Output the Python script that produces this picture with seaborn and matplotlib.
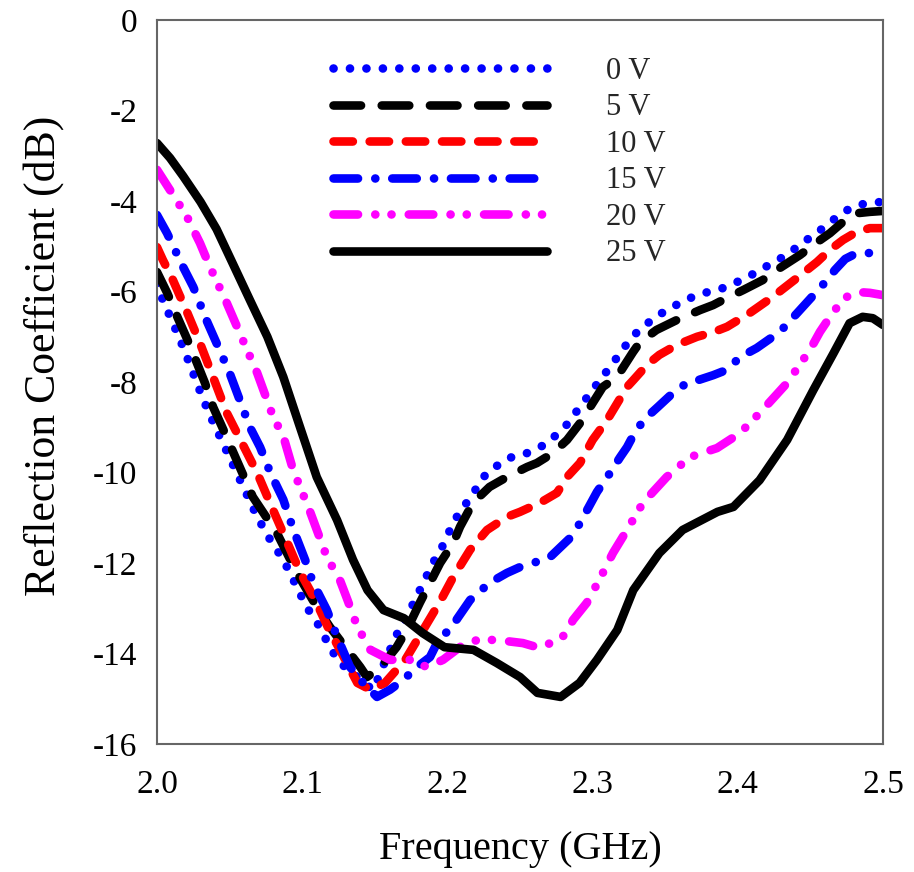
import matplotlib
matplotlib.use("Agg")
import matplotlib.pyplot as plt
import seaborn as sns
import pandas as pd

# ---------------- data ----------------
labels = ["0 V", "5 V", "10 V", "15 V", "20 V", "25 V"]

freq_0v = [2.000, 2.004, 2.011, 2.018, 2.024, 2.032, 2.038, 2.069, 2.078, 2.087, 2.094, 2.103,
           2.112, 2.119, 2.126, 2.135, 2.142, 2.149, 2.158, 2.166, 2.172, 2.181, 2.190, 2.196,
           2.205, 2.216, 2.227, 2.242, 2.252, 2.260, 2.269, 2.282, 2.305, 2.312, 2.324, 2.330,
           2.338, 2.345, 2.352, 2.360, 2.369, 2.377, 2.386, 2.395, 2.404, 2.412, 2.420, 2.428,
           2.436, 2.443, 2.450, 2.457, 2.464, 2.473, 2.481, 2.490, 2.500]
s11_0v = [-5.81, -6.19, -6.70, -7.23, -7.73, -8.40, -8.84, -10.98, -11.49, -11.93, -12.38, -12.97,
          -13.41, -13.86, -14.21, -14.43, -14.65, -14.80, -14.10, -13.52, -13.19, -12.60, -12.00, -11.67,
          -11.05, -10.54, -10.01, -9.68, -9.61, -9.50, -9.35, -8.95, -7.96, -7.67, -7.14, -6.92,
          -6.70, -6.52, -6.41, -6.25, -6.12, -6.03, -5.97, -5.86, -5.72, -5.59, -5.44, -5.30,
          -5.13, -4.97, -4.80, -4.64, -4.46, -4.24, -4.11, -4.04, -4.02]

freq_5v = [2.000, 2.007, 2.014, 2.021, 2.0275, 2.033, 2.0386, 2.0448, 2.066, 2.0826, 2.0964, 2.110,
           2.119, 2.131, 2.140, 2.1446, 2.1515, 2.158, 2.165, 2.172, 2.181, 2.195, 2.204, 2.2087,
           2.2176, 2.229, 2.241, 2.2548, 2.2617, 2.2727, 2.2824, 2.2913, 2.307, 2.3168, 2.3278, 2.3326,
           2.344, 2.358, 2.374, 2.383, 2.3926, 2.4036, 2.417, 2.429, 2.443, 2.452, 2.4635, 2.4725,
           2.482, 2.491, 2.500]
s11_5v = [-5.57, -6.03, -6.56, -7.07, -7.58, -8.02, -8.55, -8.99, -10.54, -11.34, -12.22, -12.97,
          -13.41, -13.92, -14.30, -14.52, -14.36, -14.14, -13.86, -13.48, -12.88, -12.00, -11.56, -11.20,
          -10.67, -10.32, -10.10, -9.88, -9.79, -9.57, -9.28, -8.91, -8.11, -7.89, -7.34, -7.12,
          -6.85, -6.63, -6.41, -6.30, -6.14, -5.97, -5.75, -5.48, -5.19, -4.97, -4.71, -4.46,
          -4.27, -4.24, -4.22]

freq_10v = [2.000, 2.004, 2.011, 2.021, 2.0296, 2.0386, 2.048, 2.069, 2.079, 2.088, 2.0985, 2.109,
            2.118, 2.129, 2.138, 2.147, 2.157, 2.171, 2.182, 2.195, 2.204, 2.2156, 2.2273, 2.241,
            2.250, 2.2638, 2.2755, 2.2824, 2.2913, 2.300, 2.310, 2.3237, 2.328, 2.3375, 2.346, 2.358,
            2.372, 2.383, 2.3926, 2.408, 2.424, 2.4408, 2.4545, 2.4635, 2.4725, 2.482, 2.491, 2.500]
s11_10v = [-5.02, -5.30, -5.75, -6.48, -7.14, -7.89, -8.68, -10.01, -10.76, -11.42, -12.20, -12.82,
           -13.44, -14.10, -14.65, -14.80, -14.65, -14.14, -13.55, -12.85, -12.31, -11.71, -11.27, -10.98,
           -10.87, -10.67, -10.45, -10.10, -9.79, -9.28, -8.84, -8.11, -7.96, -7.62, -7.40, -7.18,
           -7.00, -6.90, -6.78, -6.48, -6.12, -5.70, -5.35, -5.08, -4.86, -4.68, -4.60, -4.60]

freq_15v = [2.000, 2.0069, 2.018, 2.025, 2.034, 2.041, 2.050, 2.057, 2.064, 2.071, 2.078, 2.087,
            2.094, 2.102, 2.1075, 2.117, 2.124, 2.133, 2.142, 2.1515, 2.1605, 2.1694, 2.179, 2.188,
            2.195, 2.2018, 2.207, 2.2156, 2.229, 2.241, 2.250, 2.259, 2.2707, 2.2844, 2.2913, 2.303,
            2.312, 2.319, 2.3237, 2.330, 2.3375, 2.345, 2.3554, 2.365, 2.3726, 2.383, 2.3926, 2.4015,
            2.413, 2.429, 2.4408, 2.451, 2.4614, 2.467, 2.474, 2.482, 2.491, 2.500]
s11_15v = [-4.31, -4.71, -5.46, -5.90, -6.63, -7.14, -7.80, -8.40, -9.00, -9.44, -10.00, -10.60,
           -11.27, -11.93, -12.44, -13.04, -13.63, -14.30, -14.65, -14.96, -14.80, -14.59, -14.30, -14.08,
           -13.63, -13.48, -13.22, -12.82, -12.44, -12.22, -12.09, -12.00, -11.87, -11.45, -11.12, -10.43,
           -10.01, -9.66, -9.44, -9.06, -8.77, -8.55, -8.24, -8.02, -7.96, -7.85, -7.73, -7.45,
           -7.25, -6.89, -6.48, -6.12, -5.75, -5.52, -5.28, -5.15, -5.15, -5.15]

freq_20v = [2.000, 2.009, 2.0207, 2.0296, 2.0365, 2.048, 2.057, 2.069, 2.080, 2.087, 2.0937, 2.105,
            2.117, 2.126, 2.131, 2.138, 2.147, 2.1605, 2.174, 2.186, 2.197, 2.2135, 2.2225, 2.234,
            2.252, 2.2638, 2.2727, 2.281, 2.2865, 2.296, 2.305, 2.314, 2.3237, 2.3347, 2.351, 2.367,
            2.3857, 2.4015, 2.417, 2.434, 2.4497, 2.4566, 2.4635, 2.469, 2.475, 2.482, 2.491, 2.500]
s11_20v = [-3.31, -3.76, -4.35, -4.93, -5.46, -6.25, -6.92, -7.80, -8.77, -9.20, -9.94, -10.83,
           -11.87, -12.38, -12.80, -13.41, -13.92, -14.14, -14.14, -14.30, -14.14, -13.74, -13.70, -13.70,
           -13.77, -13.88, -13.74, -13.59, -13.26, -12.88, -12.35, -11.78, -11.27, -10.67, -10.10, -9.66,
           -9.46, -9.13, -8.62, -8.02, -7.29, -6.89, -6.56, -6.32, -6.12, -6.01, -6.03, -6.08]

freq_25v = [2.000, 2.009, 2.018, 2.030, 2.041, 2.052, 2.064, 2.076, 2.087, 2.098, 2.110, 2.124,
            2.135, 2.145, 2.156, 2.170, 2.183, 2.198, 2.218, 2.234, 2.250, 2.262, 2.278, 2.291,
            2.303, 2.317, 2.328, 2.346, 2.362, 2.386, 2.397, 2.415, 2.434, 2.452, 2.466, 2.477,
            2.486, 2.493, 2.500]
s11_25v = [-2.72, -3.05, -3.45, -4.02, -4.62, -5.37, -6.19, -7.00, -7.89, -8.95, -10.10, -11.05,
           -11.93, -12.60, -13.04, -13.22, -13.55, -13.86, -13.92, -14.21, -14.52, -14.87, -14.96, -14.65,
           -14.14, -13.48, -12.60, -11.78, -11.27, -10.87, -10.76, -10.17, -9.28, -8.18, -7.36, -6.70,
           -6.56, -6.59, -6.74]

xticks = [2.0, 2.1, 2.2, 2.3, 2.4, 2.5]
xtick_labels = ["2.0", "2.1", "2.2", "2.3", "2.4", "2.5"]
yticks = [-16, -14, -12, -10, -8, -6, -4, -2, 0]
ytick_labels = ["-16", "-14", "-12", "-10", "-8", "-6", "-4", "-2", "0"]

# ---------------- styling ----------------
series = [
    (freq_0v, s11_0v, "#0000FF", (0, (0.01, 1.9))),
    (freq_5v, s11_5v, "#000000", (0, (3.2, 2.4))),
    (freq_10v, s11_10v, "#FF0000", (0, (2.25, 1.95))),
    (freq_15v, s11_15v, "#0000FF", (0, (2.85, 2.0, 0.01, 1.96))),
    (freq_20v, s11_20v, "#FF00FF", (0, (2.85, 2.0, 0.01, 1.87, 0.01, 2.0))),
    (freq_25v, s11_25v, "#000000", "solid"),
]

sns.set_theme(style="white")
plt.rcParams["font.family"] = ["Liberation Serif", "DejaVu Serif"]
plt.rcParams["axes.unicode_minus"] = False

fig = plt.figure(figsize=(9.14, 8.72), dpi=100)
ax = fig.add_axes([157 / 914, 1 - 744 / 872, 726 / 914, 724 / 872])

handles = []
for (fx, fy, col, ls), lab in zip(series, labels):
    df = pd.DataFrame({"Frequency": fx, "S11": fy})
    sns.lineplot(data=df, x="Frequency", y="S11", ax=ax, color=col, linewidth=6.2,
                 linestyle=ls, dash_capstyle="round", solid_capstyle="round",
                 errorbar=None, sort=False, label=lab)
    handles.append(ax.lines[-1])

ax.set_xlim(2.0, 2.5)
ax.set_ylim(-16, 0)
ax.set_xticks(xticks)
ax.set_xticklabels(xtick_labels)
ax.set_yticks(yticks)
ax.set_yticklabels(ytick_labels)
ax.tick_params(axis="both", length=0, labelsize=24, colors="black")
ax.tick_params(axis="x", pad=18)
ax.tick_params(axis="y", pad=14)

for sp in ax.spines.values():
    sp.set_visible(True)
    sp.set_color("#666666")
    sp.set_linewidth(1.5)

ax.set_xlabel("Frequency (GHz)", fontsize=29, labelpad=23, color="black")
ax.set_ylabel("Reflection Coefficient (dB)", fontsize=31.5, color="black")
ax.yaxis.set_label_coords(-0.128, 0.536)

leg = ax.legend(handles=handles, labels=labels, loc="upper left",
                bbox_to_anchor=(0.2424, 0.949), frameon=False, fontsize=22,
                handlelength=7.0, handletextpad=1.95, labelspacing=0.245,
                borderpad=0, borderaxespad=0)
for line in leg.get_lines():
    line.set_linewidth(6.2)

fig.savefig("out.png", dpi=100)
